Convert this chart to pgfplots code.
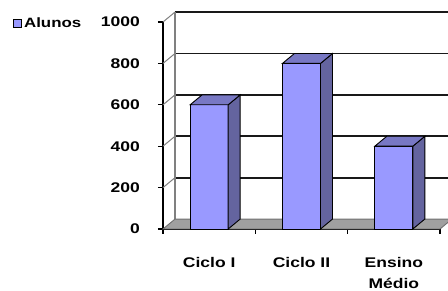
\documentclass[border=0pt]{standalone}
\usepackage{fontspec}
\setmainfont{Liberation Sans}[FakeStretch=1.25]
\usepackage{pgfplots}
\pgfplotsset{compat=1.18}
\definecolor{barfront}{HTML}{9999FF}
\definecolor{barside}{HTML}{64649F}
\definecolor{bartop}{HTML}{7878C4}
\definecolor{floorc}{HTML}{A0A0A0}
\definecolor{flooredge}{HTML}{707070}
\def\hw{0.206}
\def\dx{0.13}
\def\dy{48}
\newcommand\sidetop[2]{%
  \pgfmathsetmacro\xa{#1+\hw}%
  \pgfmathsetmacro\xl{#1-\hw}%
  \pgfmathsetmacro\xb{#1+\hw+\dx}%
  \pgfmathsetmacro\xlb{#1-\hw+\dx}%
  \pgfmathsetmacro\vb{#2+\dy}%
  \edef\tmp{\noexpand\addplot[fill=barside,draw=black,line width=0.9pt,forget plot] coordinates {(\xa,0) (\xb,\dy) (\xb,\vb) (\xa,#2)} --cycle;
  \noexpand\addplot[fill=bartop,draw=black,line width=0.9pt,forget plot] coordinates {(\xl,#2) (\xa,#2) (\xb,\vb) (\xlb,\vb)} --cycle;}%
  \tmp}
\begin{document}
\begin{tikzpicture}
\clip (0,0) rectangle (448pt,291pt);
\begin{axis}[
  at={(163pt,62pt)}, anchor=south west,
  scale only axis, width=277pt, height=207pt,
  xmin=0, xmax=3, ymin=0, ymax=1000,
  enlargelimits=false, clip=false,
  axis lines*=left,
  axis line style={black, line width=1.2pt},
  xtick={0,1,2,3},
  xticklabels={},
  extra x ticks={0.5,1.5,2.5},
  extra x tick labels={Ciclo I, Ciclo II, {Ensino\\Médio}},
  extra x tick style={major tick length=0pt, tick style={draw=none}},
  ytick={0,200,400,600,800,1000},
  tick align=outside,
  tick style={black, line width=1.2pt},
  major tick length=5pt,
  /pgf/number format/assume math mode=true,
  /pgf/number format/1000 sep={},
  scaled y ticks=false,
  ticklabel style={font=\bfseries\fontsize{14}{21}\selectfont, inner sep=0pt},
  yticklabel style={anchor=east, xshift=-18pt},
  xticklabel style={anchor=north, align=center, yshift=-28pt},
  legend style={at={(rel axis cs:-0.5415,0.995)}, anchor=west, draw=none, fill=none, inner sep=0pt,
    font=\bfseries\fontsize{13.5}{14}\selectfont},
  legend image code/.code={\draw[fill=barfront,draw=black,line width=0.9pt] (0pt,-4pt) rectangle (8pt,4pt);},
]
% back wall gridlines
\addplot[black!90, line width=1.8pt, forget plot] coordinates {(0.13,248) (3.13,248)};
\addplot[black!90, line width=1.8pt, forget plot] coordinates {(0.13,448) (3.13,448)};
\addplot[black!90, line width=1.8pt, forget plot] coordinates {(0.13,648) (3.13,648)};
\addplot[black!90, line width=1.8pt, forget plot] coordinates {(0.13,848) (3.13,848)};
\addplot[black!90, line width=1.8pt, forget plot] coordinates {(0.13,1048) (3.13,1048)};
% left wall diagonals
\addplot[gray, line width=1pt, forget plot] coordinates {(0,200) (0.13,248)};
\addplot[gray, line width=1pt, forget plot] coordinates {(0,400) (0.13,448)};
\addplot[gray, line width=1pt, forget plot] coordinates {(0,600) (0.13,648)};
\addplot[gray, line width=1pt, forget plot] coordinates {(0,800) (0.13,848)};
\addplot[gray, line width=1pt, forget plot] coordinates {(0,1000) (0.13,1048)};
% back wall left edge
\addplot[gray, line width=1.8pt, forget plot] coordinates {(0.13,48) (0.13,1048)};
% floor
\addplot[fill=floorc, draw=flooredge, line width=0.9pt, forget plot] coordinates {(0,0) (3,0) (3.13,48) (0.13,48)} --cycle;
% bars
\addplot[ybar, bar width=38pt, fill=barfront, draw=black, line width=0.9pt] coordinates {(0.5,600) (1.5,800) (2.5,400)};
\addlegendentry{Alunos}
\sidetop{0.5}{600}
\sidetop{1.5}{800}
\sidetop{2.5}{400}
\end{axis}
\end{tikzpicture}
\end{document}
